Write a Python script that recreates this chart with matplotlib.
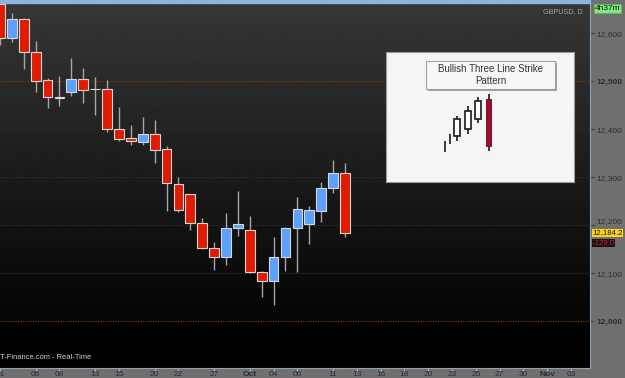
import numpy as np
import matplotlib
matplotlib.use('Agg')
import matplotlib.pyplot as plt
import matplotlib.transforms as mtransforms
import matplotlib.patheffects as pe
from matplotlib.patches import Rectangle
from matplotlib.colors import LinearSegmentedColormap

plt.rcParams['font.family'] = ['Liberation Sans', 'DejaVu Sans']

# GBPUSD daily candles (x 10,000), 1 Sep - 12 Oct
dates = ['01', '04', '05', '06', '07', '08', '11', '12', '13', '14', '15',
         '18', '19', '20', '21', '22', '25', '26', '27', '28', '29',
         'Oct', '03', '04', '05', '06', '09', '10', '11', '12']
opens = [12662, 12590, 12631, 12562, 12504, 12468, 12479, 12506, 12484, 12484,
         12400, 12383, 12373, 12390, 12360, 12287, 12265, 12206, 12154, 12135,
         12194, 12190, 12104, 12085, 12135, 12194, 12202, 12231, 12277, 12310]
highs = [12690, 12642, 12632, 12585, 12508, 12512, 12548, 12529, 12510, 12504,
         12446, 12410, 12425, 12419, 12365, 12302, 12266, 12215, 12165, 12225,
         12271, 12219, 12106, 12175, 12196, 12260, 12240, 12290, 12337, 12331]
lows = [12577, 12583, 12525, 12479, 12444, 12448, 12469, 12456, 12431, 12394,
        12375, 12367, 12367, 12331, 12231, 12229, 12190, 12150, 12108, 12117,
        12177, 12100, 12050, 12035, 12106, 12102, 12162, 12208, 12267, 12175]
closes = [12590, 12631, 12562, 12502, 12467, 12465, 12506, 12483, 12484, 12400,
          12381, 12375, 12390, 12358, 12288, 12233, 12206, 12154, 12135, 12194,
          12202, 12104, 12085, 12135, 12194, 12235, 12233, 12277, 12310, 12184.2]
last_price = 12184.2
last_change = -129.0

# x axis labels (trading-day slots, future slots continue to the right)
tick_slots = [0, 3, 5, 8, 10, 13, 15, 18, 21, 23, 25, 28, 30,
              32, 34, 36, 38, 40, 42, 44, 46, 48]
tick_labels = ['01', '06', '08', '13', '15', '20', '22', '27', 'Oct', '04', '06',
               '11', '13', '16', '18', '20', '23', '25', '27', '30', 'Nov', '03']
price_ticks = [12000, 12100, 12200, 12300, 12400, 12500, 12600]
marked_levels = [12000, 12500]

# inset pattern (illustration of a bullish three line strike)
pat_x = [5.9, 6.4, 7.1, 8.15, 9.15, 10.25]
pat_open = [None, None, 46, 53, 63, 83]
pat_close = [None, None, 63, 71, 81, 36]
pat_high = [41, 48, 66, 76, 85, 88]
pat_low = [30, 38, 41, 48, 59, 31]

W, H = 625, 378
fig = plt.figure(figsize=(W / 100, H / 100), dpi=100, facecolor='#6f6f6f')
ax = fig.add_axes([0, 10 / H, 590 / W, 365 / H])

xmin, xmax = 0, 49.6
ymin, ymax = 11903, 12663.5
ax.set_xlim(xmin, xmax)
ax.set_ylim(ymin, ymax)

# background gradient
g = np.linspace(ymax, ymin, 400)
shade = np.clip((g - 12000) / (ymax - 12000), 0, 1) * 0.2 + np.where(g > 12000, 0.015, 0)
grad = np.repeat(shade[:, None], 2, axis=1)
cmap = LinearSegmentedColormap.from_list('bg', ['#000000', '#ffffff'])
ax.imshow(grad, extent=[xmin, xmax, ymin, ymax], aspect='auto', cmap=cmap,
          vmin=0, vmax=1, zorder=0, interpolation='bilinear')

for lvl in price_ticks:
    if lvl in marked_levels:
        ax.axhline(lvl, color='#6a3a10', lw=0.9, ls=(0, (1, 1)), zorder=1)
    else:
        ax.axhline(lvl, color='#303030', lw=0.8, ls=(0, (1, 1)), zorder=1)

# candles
for i in range(len(opens)):
    o, h, l, c = opens[i], highs[i], lows[i], closes[i]
    if c > o:
        col = '#5ea0ff'
    elif c < o:
        col = '#e01b00'
    else:
        col = '#f0f0f0'
    ax.vlines(i, l, h, color='#a6a6a6', lw=1.0, zorder=2)
    ax.bar(i, abs(c - o), bottom=min(o, c), width=0.82, color=col,
           edgecolor='#d8d8d8', lw=0.8, zorder=3)

# axes styling
for s in ax.spines.values():
    s.set_visible(False)
ax.spines['bottom'].set_visible(True)
ax.spines['bottom'].set_color('#8fa3b5')
ax.spines['right'].set_visible(True)
ax.spines['right'].set_color('#8fa3b5')

ax.set_xticks(tick_slots)
ax.set_xticklabels(tick_labels)
ax.tick_params(axis='x', length=2, color='#9fb4c8', pad=0.5, labelsize=6,
               labelcolor='#2e2e2e')
for lab in ax.get_xticklabels():
    if lab.get_text() in ('Oct', 'Nov'):
        lab.set_fontweight('bold')

ax.yaxis.tick_right()
ax.set_yticks(price_ticks)
ax.set_yticklabels(['{:,}'.format(v) for v in price_ticks])
ax.tick_params(axis='y', length=3, color='#3a3a3a', pad=1.5, labelsize=6,
               labelcolor='#2e2e2e')
for lab in ax.get_yticklabels():
    if lab.get_text() in ('12,000', '12,500'):
        lab.set_fontweight('bold')
    if lab.get_text() == '12,200':
        # the platform nudges this label up to clear the price marker
        lab.set_va('bottom')

# top strip
fig.patches.append(Rectangle((0, 1 - 3 / H), 590 / W, 3 / H,
                             transform=fig.transFigure, color='#8db3df', zorder=5))

ax.text(0.988, 0.985, 'GBPUSD, D', transform=ax.transAxes, ha='right', va='top',
        fontsize=5.2, color='#a6a6a6', zorder=6)
ax.text(0.0, 0.02, 'T-Finance.com - Real-Time', transform=ax.transAxes,
        ha='left', va='bottom', fontsize=5.4, color='#d2d2d2', zorder=6)
fig.text(607.5 / W, 1 - 8 / H, '4h37m', ha='center', va='center', fontsize=6,
         color='#111111',
         bbox=dict(boxstyle='square,pad=0.12', fc='#7fe97f', ec='#5ab85a', lw=0.5))

trans = mtransforms.blended_transform_factory(ax.transAxes, ax.transData)
ax.text(1.004, last_price, '{:,.1f}'.format(last_price), transform=trans,
        ha='left', va='center', fontsize=5.6, color='#111111', clip_on=False,
        bbox=dict(boxstyle='square,pad=0.06', fc='#ffd21c', ec='none'))
ax.annotate('{:.1f}'.format(last_change), xy=(1.004, last_price), xycoords=trans,
            xytext=(0, -7.5), textcoords='offset points', ha='left', va='center',
            fontsize=5.6, color='#e3132b', annotation_clip=False,
            bbox=dict(boxstyle='square,pad=0.06', fc='#151515', ec='none'))

# inset with pattern illustration
ins = fig.add_axes([386 / W, 1 - 182 / H, 188 / W, 130 / H])
ins.set_facecolor('#f5f5f5')
ins.set_xlim(0, 18.8)
ins.set_ylim(0, 130)
ins.set_xticks([])
ins.set_yticks([])
for s in ins.spines.values():
    s.set_color('#9a9a9a')
    s.set_linewidth(0.8)

for i in range(len(pat_x)):
    ins.vlines(pat_x[i], pat_low[i], pat_high[i], color='#1a1a1a', lw=1.2, zorder=2)
    if pat_open[i] is None:
        continue
    o, c = pat_open[i], pat_close[i]
    if c >= o:
        ins.bar(pat_x[i], c - o, bottom=o, width=0.6, color='#ffffff',
                edgecolor='#1a1a1a', lw=1.2, zorder=3)
    else:
        ins.bar(pat_x[i], o - c, bottom=c, width=0.55, color='#a00c2a',
                edgecolor='#5a0716', lw=0.6, zorder=3)

box = Rectangle((4.0, 93), 12.9, 28, facecolor='#f7f7f7', edgecolor='#a0a0a0',
                lw=0.8, zorder=4)
box.set_path_effects([pe.SimplePatchShadow(offset=(1.5, -1.5), alpha=0.5), pe.Normal()])
ins.add_patch(box)
ins.text(10.45, 107, 'Bullish Three Line Strike\nPattern', ha='center', va='center',
         fontsize=7, color='#333333', linespacing=1.2, zorder=5)

fig.savefig('out.png', dpi=100, facecolor=fig.get_facecolor())
